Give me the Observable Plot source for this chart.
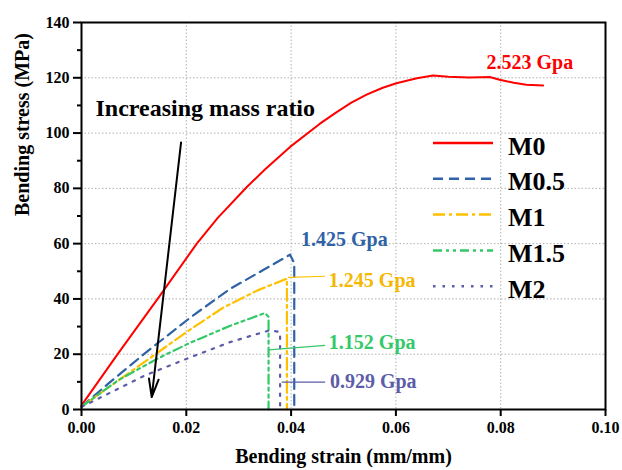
<!DOCTYPE html>
<html><head><meta charset="utf-8">
<script src="https://cdn.jsdelivr.net/npm/d3@7"></script>
<script src="https://cdn.jsdelivr.net/npm/@observablehq/plot@0.6"></script>
<style>body{margin:0;background:#fff;} #chart{width:622px;height:470px;}</style>
</head><body><div id="chart"></div>
<script>
// ---- data ----
const seriesNames = ["M0", "M0.5", "M1", "M1.5", "M2"];
const seriesColors = ["#ff0000", "#2f62a6", "#ffc000", "#34c968", "#5c5ca8"];
const seriesDash = [null, "10,6", "12,4,3,4", "9,4,3,4,3,4", "2.5,7"];

const strainM0 = [0, 0.007, 0.0147, 0.022, 0.026, 0.0316, 0.035, 0.0398, 0.0455, 0.0487, 0.0515, 0.0544, 0.0575, 0.0601, 0.0640, 0.0671, 0.0700, 0.0740, 0.0779, 0.0798, 0.0825, 0.0849, 0.0881];
const stressM0 = [1.5, 20.3, 40.5, 60.0, 69.3, 80.6, 86.8, 95.0, 103.4, 107.6, 111.0, 113.9, 116.4, 118.0, 119.8, 120.8, 120.4, 120.1, 120.3, 119.3, 118.2, 117.5, 117.2];

const strainM05 = [0, 0.005, 0.0128, 0.021, 0.0284, 0.035, 0.0398, 0.0406, 0.0406];
const stressM05 = [1, 9.2, 21.4, 33.6, 43.7, 50.8, 56.0, 53.0, 0];

const strainM1 = [0, 0.005, 0.0147, 0.0208, 0.027, 0.0335, 0.0385, 0.0392, 0.0392];
const stressM1 = [1, 7.8, 20.8, 29.0, 36.8, 43.0, 46.8, 47.3, 0];

const strainM15 = [0, 0.007, 0.0147, 0.0208, 0.0284, 0.035, 0.0357, 0.0357];
const stressM15 = [1, 10.6, 18.6, 24.2, 30.3, 34.9, 33.5, 0];

const strainM2 = [0, 0.002, 0.0121, 0.0204, 0.0284, 0.036, 0.0379, 0.0379];
const stressM2 = [1, 2.8, 12.3, 18.6, 24.4, 28.7, 28.0, 0];

const xTicks = [0, 0.02, 0.04, 0.06, 0.08, 0.10];
const yTicks = [0, 20, 40, 60, 80, 100, 120, 140];
const yMinorTicks = [10, 30, 50, 70, 90, 110, 130];

const modulusLabels = ["2.523 Gpa", "1.425 Gpa", "1.245 Gpa", "1.152 Gpa", "0.929 Gpa"];
const modulusStrain = [0.0773, 0.0419, 0.0472, 0.0472, 0.0474];
const modulusStress = [125.6, 61.3, 46.75, 24.05, 10.1];
const modulusColors = ["#ff0000", "#2f62a6", "#f5b800", "#34c968", "#5c5ca8"];

const leaderStrainFrom = [0.0394, 0.0357, 0.0382];
const leaderStressFrom = [47.8, 21.6, 9.9];
const leaderStrainTo = [0.0465, 0.0465, 0.0465];
const leaderStressTo = [48.2, 23.2, 9.9];
const leaderColors = ["#ffc000", "#34c968", "#5c5ca8"];

const arrowStrain = [0.0190, 0.0134];
const arrowStress = [96.6, 4.5];
const noteText = ["Increasing mass ratio"];
const noteStrain = [0.00267];
const noteStress = [109.1];

const xTitle = "Bending strain (mm/mm)";
const yTitle = "Bending stress (MPa)";

// ---- build tables ----
const strainArrays = [strainM0, strainM05, strainM1, strainM15, strainM2];
const stressArrays = [stressM0, stressM05, stressM1, stressM15, stressM2];
const curves = seriesNames.map((name, i) =>
  strainArrays[i].map((s, j) => ({series: name, strain: s, stress: stressArrays[i][j]})));
const moduli = modulusLabels.map((t, i) => ({t, x: modulusStrain[i], y: modulusStress[i], c: modulusColors[i]}));
const leaders = leaderColors.map((c, i) => ({x1: leaderStrainFrom[i], y1: leaderStressFrom[i], x2: leaderStrainTo[i], y2: leaderStressTo[i], c}));
const arrows = [{x1: arrowStrain[0], y1: arrowStress[0], x2: arrowStrain[1], y2: arrowStress[1]}];
const notes = noteText.map((t, i) => ({t, x: noteStrain[i], y: noteStress[i]}));

const F = "'Liberation Serif','Times New Roman',serif";
const grid = {stroke: "#b0b0b0", strokeOpacity: 1, strokeDasharray: "1.5,2", strokeWidth: 1};

function legend(index, scales, values, dim) {
  const g = d3.create("svg:g").attr("font-family", F).attr("font-weight", "bold").attr("text-anchor", "start");
  const x0 = dim.width - dim.marginRight - 172;
  const y0 = dim.marginTop + 121;
  seriesNames.forEach((name, i) => {
    const y = y0 + i * 35.8;
    g.append("line").attr("x1", x0).attr("x2", x0 + 60).attr("y1", y).attr("y2", y)
      .attr("stroke", seriesColors[i]).attr("stroke-width", 2.5)
      .attr("stroke-dasharray", seriesDash[i]);
    g.append("text").attr("x", x0 + 75).attr("y", y + 11.5).attr("font-size", 26)
      .attr("text-anchor", "start").attr("fill", "#000").text(name);
  });
  return g.node();
}

const plot = Plot.plot({
  width: 622, height: 470,
  marginTop: 22, marginRight: 17, marginBottom: 61, marginLeft: 81,
  style: {fontFamily: F, fontSize: "16px", fontWeight: "bold", color: "#000", background: "#fff"},
  x: {domain: [0, 0.1], label: null},
  y: {domain: [0, 140], label: null},
  marks: [
    Plot.gridX(xTicks.slice(1, -1), grid),
    Plot.gridY(yTicks.slice(1, -1), grid),
    ...curves.map((d, i) => Plot.line(d, {x: "strain", y: "stress", stroke: seriesColors[i],
      strokeWidth: i === 0 ? 2 : 2.2, strokeDasharray: seriesDash[i] ?? undefined, curve: "linear"})),
    Plot.link(leaders, {x1: "x1", y1: "y1", x2: "x2", y2: "y2", stroke: "c", strokeWidth: 1.2}),
    Plot.arrow(arrows, {x1: "x1", y1: "y1", x2: "x2", y2: "y2", stroke: "#000", strokeWidth: 2, headLength: 14, headAngle: 30}),
    Plot.text(moduli, {x: "x", y: "y", text: "t", fill: "c", textAnchor: "start", fontSize: 20, fontWeight: "bold"}),
    Plot.text(notes, {x: "x", y: "y", text: "t", fill: "#000", textAnchor: "start", fontSize: 24, fontWeight: "bold"}),
    Plot.axisX(xTicks, {tickSize: 7, tickPadding: 5, strokeWidth: 2, tickFormat: d => d.toFixed(2), fontSize: 16, fontWeight: "bold", label: null}),
    Plot.axisY(yTicks, {tickSize: 8, tickPadding: 4, strokeWidth: 2, fontSize: 16, fontWeight: "bold", label: null}),
    Plot.axisY(yMinorTicks, {tickSize: 4, strokeWidth: 2, tickFormat: () => "", label: null}),
    Plot.frame({stroke: "#000", strokeWidth: 2}),
    legend,
    Plot.text([xTitle], {frameAnchor: "bottom", dy: 53, text: d => d, fontSize: 20, fontWeight: "bold", fill: "#000"}),
    Plot.text([yTitle], {frameAnchor: "left", dx: -59, rotate: -90, text: d => d, fontSize: 20, fontWeight: "bold", fill: "#000"})
  ]
});
document.getElementById("chart").append(plot);
</script>
</body></html>
